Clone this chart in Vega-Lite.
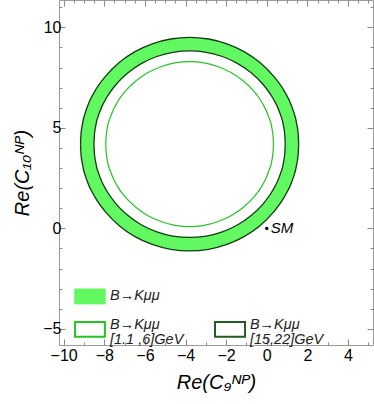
{
  "$schema": "https://vega.github.io/schema/vega-lite/v6.json",
  "width": 314,
  "height": 345,
  "autosize": "none",
  "padding": {"left": 59, "top": 0, "right": 1, "bottom": 59},
  "background": "white",
  "config": {
    "view": {"stroke": "#9a9a9a", "strokeWidth": 1},
    "font": "Liberation Sans",
    "axis": {
      "domain": false,
      "grid": false,
      "ticks": true,
      "tickColor": "#8a8a8a",
      "tickWidth": 1,
      "labelFont": "Liberation Sans",
      "labelFontSize": 16,
      "labelColor": "black",
      "titleFont": "Liberation Sans",
      "titleFontSize": 20,
      "titleFontWeight": "normal",
      "titleFontStyle": "italic",
      "titleColor": "black",
      "labelOverlap": false,
      "labelFlush": false
    }
  },
  "datasets": {
    "circles": [
      {"c": "outer", "x": -9.17, "t": 4.19, "b": 4.19},
      {"c": "outer", "x": -9.15, "t": 4.65, "b": 3.73},
      {"c": "outer", "x": -9.09, "t": 5.11, "b": 3.27},
      {"c": "outer", "x": -8.85, "t": 6.01, "b": 2.37},
      {"c": "outer", "x": -8.45, "t": 6.85, "b": 1.54},
      {"c": "outer", "x": -7.91, "t": 7.60, "b": 0.78},
      {"c": "outer", "x": -7.25, "t": 8.26, "b": 0.12},
      {"c": "outer", "x": -6.49, "t": 8.79, "b": -0.41},
      {"c": "outer", "x": -5.64, "t": 9.18, "b": -0.80},
      {"c": "outer", "x": -4.73, "t": 9.42, "b": -1.04},
      {"c": "outer", "x": -3.80, "t": 9.50, "b": -1.12},
      {"c": "outer", "x": -2.87, "t": 9.42, "b": -1.04},
      {"c": "outer", "x": -1.96, "t": 9.18, "b": -0.80},
      {"c": "outer", "x": -1.12, "t": 8.79, "b": -0.41},
      {"c": "outer", "x": -0.35, "t": 8.26, "b": 0.12},
      {"c": "outer", "x": 0.31, "t": 7.60, "b": 0.78},
      {"c": "outer", "x": 0.85, "t": 6.85, "b": 1.54},
      {"c": "outer", "x": 1.25, "t": 6.01, "b": 2.37},
      {"c": "outer", "x": 1.49, "t": 5.11, "b": 3.27},
      {"c": "outer", "x": 1.55, "t": 4.65, "b": 3.73},
      {"c": "outer", "x": 1.57, "t": 4.19, "b": 4.19},
      {"c": "inner", "x": -8.51, "t": 4.19, "b": 4.19},
      {"c": "inner", "x": -8.49, "t": 4.59, "b": 3.79},
      {"c": "inner", "x": -8.44, "t": 5.00, "b": 3.38},
      {"c": "inner", "x": -8.23, "t": 5.78, "b": 2.60},
      {"c": "inner", "x": -7.88, "t": 6.51, "b": 1.87},
      {"c": "inner", "x": -7.41, "t": 7.17, "b": 1.21},
      {"c": "inner", "x": -6.83, "t": 7.74, "b": 0.64},
      {"c": "inner", "x": -6.16, "t": 8.21, "b": 0.17},
      {"c": "inner", "x": -5.41, "t": 8.55, "b": -0.17},
      {"c": "inner", "x": -4.62, "t": 8.76, "b": -0.38},
      {"c": "inner", "x": -3.80, "t": 8.83, "b": -0.45},
      {"c": "inner", "x": -2.98, "t": 8.76, "b": -0.38},
      {"c": "inner", "x": -2.19, "t": 8.55, "b": -0.17},
      {"c": "inner", "x": -1.45, "t": 8.21, "b": 0.17},
      {"c": "inner", "x": -0.77, "t": 7.74, "b": 0.64},
      {"c": "inner", "x": -0.19, "t": 7.17, "b": 1.21},
      {"c": "inner", "x": 0.28, "t": 6.51, "b": 1.87},
      {"c": "inner", "x": 0.63, "t": 5.78, "b": 2.60},
      {"c": "inner", "x": 0.84, "t": 5.00, "b": 3.38},
      {"c": "inner", "x": 0.89, "t": 4.59, "b": 3.79},
      {"c": "inner", "x": 0.91, "t": 4.19, "b": 4.19},
      {"c": "green", "x": -7.93, "t": 4.19, "b": 4.19},
      {"c": "green", "x": -7.91, "t": 4.55, "b": 3.83},
      {"c": "green", "x": -7.87, "t": 4.90, "b": 3.48},
      {"c": "green", "x": -7.68, "t": 5.59, "b": 2.79},
      {"c": "green", "x": -7.38, "t": 6.24, "b": 2.14},
      {"c": "green", "x": -6.96, "t": 6.83, "b": 1.55},
      {"c": "green", "x": -6.45, "t": 7.33, "b": 1.05},
      {"c": "green", "x": -5.87, "t": 7.74, "b": 0.64},
      {"c": "green", "x": -5.21, "t": 8.04, "b": 0.34},
      {"c": "green", "x": -4.52, "t": 8.23, "b": 0.15},
      {"c": "green", "x": -3.80, "t": 8.29, "b": 0.09},
      {"c": "green", "x": -3.08, "t": 8.23, "b": 0.15},
      {"c": "green", "x": -2.39, "t": 8.04, "b": 0.34},
      {"c": "green", "x": -1.74, "t": 7.74, "b": 0.64},
      {"c": "green", "x": -1.15, "t": 7.33, "b": 1.05},
      {"c": "green", "x": -0.64, "t": 6.83, "b": 1.55},
      {"c": "green", "x": -0.22, "t": 6.24, "b": 2.14},
      {"c": "green", "x": 0.08, "t": 5.59, "b": 2.79},
      {"c": "green", "x": 0.27, "t": 4.90, "b": 3.48},
      {"c": "green", "x": 0.31, "t": 4.55, "b": 3.83},
      {"c": "green", "x": 0.33, "t": 4.19, "b": 4.19}
    ],
    "legendBoxes": [
      {"k": "fill", "x": -9.48, "x2": -7.93, "y": -2.99, "y2": -3.78},
      {"k": "green", "x": -9.44, "x2": -7.97, "y": -4.65, "y2": -5.39},
      {"k": "dark", "x": -2.55, "x2": -1.07, "y": -4.65, "y2": -5.39}
    ],
    "legendText": [
      {"x": -7.72, "y": -3.37, "t": "B→Kμμ"},
      {"x": -7.72, "y": -4.79, "t": "B→Kμμ"},
      {"x": -7.72, "y": -5.53, "t": "[1.1 ,6]GeV"},
      {"x": -0.83, "y": -4.79, "t": "B→Kμμ"},
      {"x": -0.83, "y": -5.53, "t": "[15,22]GeV"}
    ],
    "sm": [{"x": 0, "y": 0, "t": "SM"}]
  },
  "resolve": {"axis": {"x": "independent", "y": "independent"}},
  "layer": [
    {
      "data": {"name": "circles"},
      "transform": [{"filter": "datum.c === 'outer'"}],
      "mark": {"type": "area", "interpolate": "monotone", "color": "#62f862"},
      "encoding": {
        "x": {"field": "x", "type": "quantitative",
          "scale": {"domain": [-10.23, 5.23], "nice": false, "zero": false},
          "axis": {"orient": "bottom",
            "values": [-10, -9.5, -9, -8.5, -8, -7.5, -7, -6.5, -6, -5.5, -5, -4.5, -4, -3.5, -3, -2.5, -2, -1.5, -1, -0.5, 0, 0.5, 1, 1.5, 2, 2.5, 3, 3.5, 4, 4.5, 5],
            "format": "d",
            "labelExpr": "datum.value % 2 === 0 ? datum.label : ''",
            "tickSize": {"condition": {"test": "datum.value % 2 === 0", "value": -6}, "value": -3},
            "labelPadding": 8,
            "title": "Re(C₉ᴺᴾ)",
            "titlePadding": 6}},
        "y": {"field": "t", "type": "quantitative",
          "scale": {"domain": [-5.8, 11.36], "nice": false, "zero": false},
          "axis": {"orient": "left",
            "values": [-5, -4, -3, -2, -1, 0, 1, 2, 3, 4, 5, 6, 7, 8, 9, 10, 11],
            "format": "d",
            "labelExpr": "datum.value % 5 === 0 ? datum.label : ''",
            "tickSize": {"condition": {"test": "datum.value % 5 === 0", "value": -6}, "value": -3},
            "labelPadding": 4,
            "title": "Re(C₁₀ᴺᴾ)",
            "titlePadding": 10}},
        "y2": {"field": "b"}
      }
    },
    {
      "data": {"name": "circles"},
      "transform": [{"filter": "datum.c === 'inner'"}],
      "mark": {"type": "area", "interpolate": "monotone", "color": "white"},
      "encoding": {
        "x": {"field": "x", "type": "quantitative",
          "axis": {"orient": "top",
            "values": [-10, -9.5, -9, -8.5, -8, -7.5, -7, -6.5, -6, -5.5, -5, -4.5, -4, -3.5, -3, -2.5, -2, -1.5, -1, -0.5, 0, 0.5, 1, 1.5, 2, 2.5, 3, 3.5, 4, 4.5, 5],
            "labels": false, "title": null,
            "tickSize": {"condition": {"test": "datum.value % 2 === 0", "value": -6}, "value": -3}}},
        "y": {"field": "t", "type": "quantitative",
          "axis": {"orient": "right",
            "values": [-5, -4, -3, -2, -1, 0, 1, 2, 3, 4, 5, 6, 7, 8, 9, 10, 11],
            "labels": false, "title": null,
            "tickSize": {"condition": {"test": "datum.value % 5 === 0", "value": -6}, "value": -3}}},
        "y2": {"field": "b"}
      }
    },
    {
      "data": {"name": "circles"},
      "transform": [{"filter": "datum.c !== 'green'"}, {"fold": ["t", "b"], "as": ["side", "yv"]}],
      "mark": {"type": "line", "interpolate": "monotone", "color": "#143c14", "strokeWidth": 1.3},
      "encoding": {
        "x": {"field": "x", "type": "quantitative", "axis": null},
        "y": {"field": "yv", "type": "quantitative", "axis": null},
        "detail": [{"field": "c"}, {"field": "side"}]
      }
    },
    {
      "data": {"name": "circles"},
      "transform": [{"filter": "datum.c === 'green'"}, {"fold": ["t", "b"], "as": ["side", "yv"]}],
      "mark": {"type": "line", "interpolate": "monotone", "color": "#26c426", "strokeWidth": 1.2},
      "encoding": {
        "x": {"field": "x", "type": "quantitative", "axis": null},
        "y": {"field": "yv", "type": "quantitative", "axis": null},
        "detail": {"field": "side"}
      }
    },
    {
      "data": {"name": "legendBoxes"},
      "transform": [{"filter": "datum.k === 'fill'"}],
      "mark": {"type": "rect", "color": "#62f862"},
      "encoding": {
        "x": {"field": "x", "type": "quantitative", "axis": null},
        "x2": {"field": "x2"},
        "y": {"field": "y", "type": "quantitative", "axis": null},
        "y2": {"field": "y2"}
      }
    },
    {
      "data": {"name": "legendBoxes"},
      "transform": [{"filter": "datum.k === 'green'"}],
      "mark": {"type": "rect", "fill": "white", "stroke": "#26c426", "strokeWidth": 2},
      "encoding": {
        "x": {"field": "x", "type": "quantitative", "axis": null},
        "x2": {"field": "x2"},
        "y": {"field": "y", "type": "quantitative", "axis": null},
        "y2": {"field": "y2"}
      }
    },
    {
      "data": {"name": "legendBoxes"},
      "transform": [{"filter": "datum.k === 'dark'"}],
      "mark": {"type": "rect", "fill": "white", "stroke": "#245a24", "strokeWidth": 2},
      "encoding": {
        "x": {"field": "x", "type": "quantitative", "axis": null},
        "x2": {"field": "x2"},
        "y": {"field": "y", "type": "quantitative", "axis": null},
        "y2": {"field": "y2"}
      }
    },
    {
      "data": {"name": "legendText"},
      "mark": {"type": "text", "align": "left", "baseline": "middle", "fontSize": 14.5, "fontStyle": "italic", "font": "Liberation Sans", "color": "#222222"},
      "encoding": {
        "x": {"field": "x", "type": "quantitative", "axis": null},
        "y": {"field": "y", "type": "quantitative", "axis": null},
        "text": {"field": "t"}
      }
    },
    {
      "data": {"name": "sm"},
      "mark": {"type": "point", "filled": true, "color": "black", "size": 12, "opacity": 1},
      "encoding": {
        "x": {"field": "x", "type": "quantitative", "axis": null},
        "y": {"field": "y", "type": "quantitative", "axis": null}
      }
    },
    {
      "data": {"name": "sm"},
      "mark": {"type": "text", "align": "left", "baseline": "middle", "dx": 4, "fontSize": 15, "fontStyle": "italic", "font": "Liberation Sans", "color": "black"},
      "encoding": {
        "x": {"field": "x", "type": "quantitative", "axis": null},
        "y": {"field": "y", "type": "quantitative", "axis": null},
        "text": {"field": "t"}
      }
    }
  ]
}
